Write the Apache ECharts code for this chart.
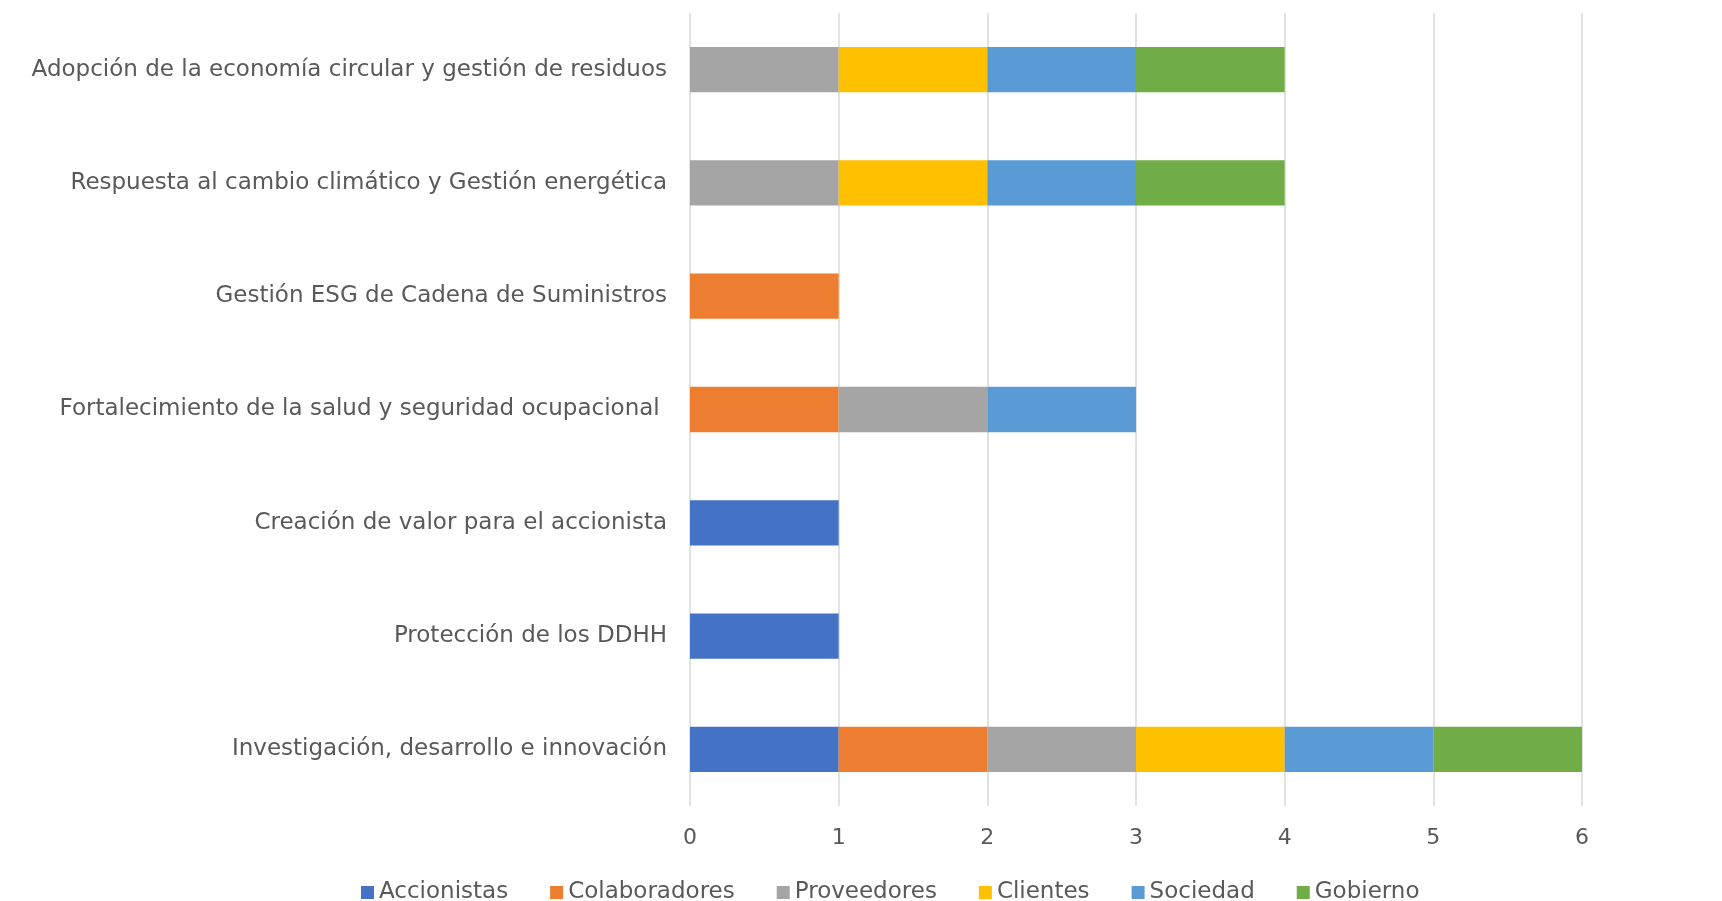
<!DOCTYPE html>
<html>
<head>
<meta charset="utf-8">
<script src="https://cdn.jsdelivr.net/npm/echarts@6/dist/echarts.min.js"></script>
<style>html,body{margin:0;padding:0;background:#fff;}#c{width:1722px;height:901px;}</style>
</head>
<body>
<div id="c"></div>
<script>
const categories = [
  "Investigación, desarrollo e innovación",
  "Protección de los DDHH",
  "Creación de valor para el accionista",
  "Fortalecimiento de la salud y seguridad ocupacional ",
  "Gestión ESG de Cadena de Suministros",
  "Respuesta al cambio climático y Gestión energética",
  "Adopción de la economía circular y gestión de residuos"
];
const seriesNames = ["Accionistas", "Colaboradores", "Proveedores", "Clientes", "Sociedad", "Gobierno"];
const accionistas   = [1, 1, 1, 0, 0, 0, 0];
const colaboradores = [1, 0, 0, 1, 1, 0, 0];
const proveedores   = [1, 0, 0, 1, 0, 1, 1];
const clientes      = [1, 0, 0, 0, 0, 1, 1];
const sociedad      = [1, 0, 0, 1, 0, 1, 1];
const gobierno      = [1, 0, 0, 0, 0, 1, 1];
const xTicks = [0, 1, 2, 3, 4, 5, 6];

const colors = ["#4472C4", "#ED7D31", "#A5A5A5", "#FFC000", "#5B9BD5", "#70AD47"];
const values = [accionistas, colaboradores, proveedores, clientes, sociedad, gobierno];
const font = "DejaVu Sans";

const chart = echarts.init(document.getElementById('c'));
chart.setOption({
  animation: false,
  color: colors,
  textStyle: { fontFamily: font },
  grid: { left: 690, right: 140, top: 13, bottom: 95, containLabel: false },
  legend: {
    left: 356, top: 876,
    itemWidth: 13, itemHeight: 13, itemGap: 42,
    icon: 'rect',
    textStyle: { fontFamily: font, fontSize: 23, color: '#595959', padding: [0, 0, 0, 0] },
    data: seriesNames
  },
  xAxis: {
    type: 'value', min: 0, max: 6, interval: 1,
    axisLine: { show: false }, axisTick: { show: false },
    splitLine: { show: true, lineStyle: { color: '#D9D9D9', width: 1.5 } },
    axisLabel: { color: '#595959', fontSize: 22, margin: 21, fontFamily: font,
      formatter: v => String(xTicks[v]) }
  },
  yAxis: {
    type: 'category', data: categories,
    axisLine: { show: false }, axisTick: { show: false },
    axisLabel: { color: '#595959', fontSize: 23, margin: 23, fontFamily: font }
  },
  series: seriesNames.map((n, i) => ({
    name: n, type: 'bar', stack: 'total', barCategoryGap: '60%',
    data: values[i].map(v => v === 0 ? null : v),
    itemStyle: { color: colors[i] }
  }))
});
</script>
</body>
</html>
